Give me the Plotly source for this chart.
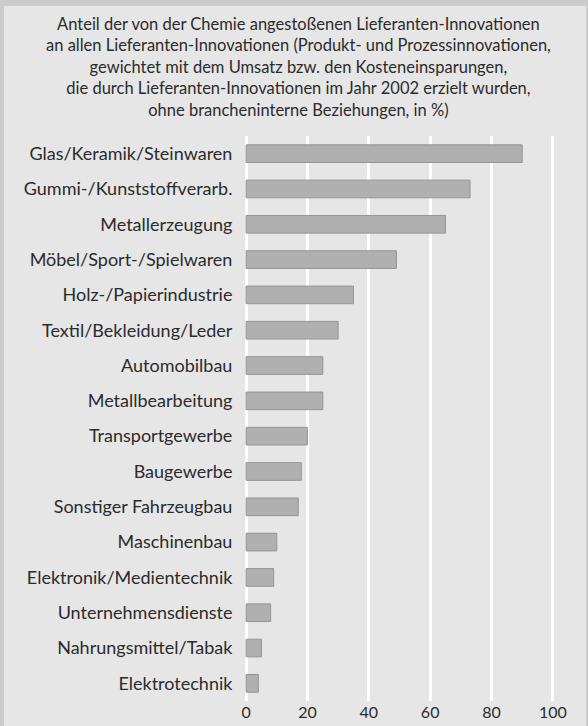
import plotly.graph_objects as go

categories = [
    "Glas/Keramik/Steinwaren",
    "Gummi-/Kunststoffverarb.",
    "Metallerzeugung",
    "Möbel/Sport-/Spielwaren",
    "Holz-/Papierindustrie",
    "Textil/Bekleidung/Leder",
    "Automobilbau",
    "Metallbearbeitung",
    "Transportgewerbe",
    "Baugewerbe",
    "Sonstiger Fahrzeugbau",
    "Maschinenbau",
    "Elektronik/Medientechnik",
    "Unternehmensdienste",
    "Nahrungsmittel/Tabak",
    "Elektrotechnik",
]
values = [90, 73, 65, 49, 35, 30, 25, 25, 20, 18, 17, 10, 9, 8, 5, 4]
tick_values = [0, 20, 40, 60, 80, 100]
tick_labels = ["0", "20", "40", "60", "80", "100"]

title_text = (
    "Anteil der von der Chemie angestoßenen Lieferanten-Innovationen<br>"
    "an allen Lieferanten-Innovationen (Produkt- und Prozessinnovationen,<br>"
    "gewichtet mit dem Umsatz bzw. den Kosteneinsparungen,<br>"
    "die durch Lieferanten-Innovationen im Jahr 2002 erzielt wurden,<br>"
    "ohne brancheninterne Beziehungen, in %)"
)

FONT = "Lato"
W, H = 588, 726
L, R, T, B = 243, 29, 136, 25

fig = go.Figure()
fig.add_trace(go.Bar(
    y=categories,
    x=values,
    orientation="h",
    width=0.5,
    marker=dict(color="#b0b0b1", line=dict(color="#949496", width=1)),
    hoverinfo="x+y",
))

fig.update_layout(
    width=W, height=H,
    autosize=False,
    margin=dict(l=L, r=R, t=T, b=B, pad=0, autoexpand=False),
    paper_bgcolor="#cbcbcc",
    plot_bgcolor="#e6e6e7",
    showlegend=False,
    font=dict(family=FONT, color="#2b2b2b"),
    xaxis=dict(
        range=[-1, 102],
        tickvals=tick_values,
        ticktext=tick_labels,
        showgrid=True,
        gridcolor="#ffffff",
        gridwidth=3,
        zeroline=False,
        showline=False,
        ticks="",
        tickfont=dict(family=FONT, size=16, color="#2b2b2b"),
        automargin=False,
        fixedrange=True,
    ),
    yaxis=dict(
        categoryorder="array",
        categoryarray=categories,
        range=[15.5, -0.5],
        showgrid=False,
        zeroline=False,
        showline=False,
        ticks="outside",
        ticklen=6,
        tickcolor="rgba(0,0,0,0)",
        tickfont=dict(family=FONT, size=18, color="#2b2b2b"),
        automargin=False,
        fixedrange=True,
    ),
    shapes=[
        dict(
            type="rect", layer="below",
            xref="paper", yref="paper",
            xsizemode="pixel", ysizemode="pixel",
            xanchor=0, yanchor=0,
            x0=4 - L, x1=586 - L,
            y0=-B - 2, y1=(H - B) - 6,
            fillcolor="#e6e6e7", line=dict(width=0),
        )
    ],
    annotations=[
        dict(
            text=title_text,
            xref="paper", yref="paper",
            x=(298 - L) / (W - L - R),
            y=((H - B) - 67) / (H - T - B),
            xanchor="center", yanchor="middle",
            showarrow=False,
            align="center",
            font=dict(family=FONT, size=16.5, color="#2b2b2b"),
        )
    ],
)

fig.write_html(
    "out.html",
    config={"displayModeBar": False, "responsive": False},
    post_script=(
        "document.body.style.margin='0';"
        "document.body.style.overflow='hidden';"
        "document.documentElement.style.overflow='hidden';"
    ),
)
